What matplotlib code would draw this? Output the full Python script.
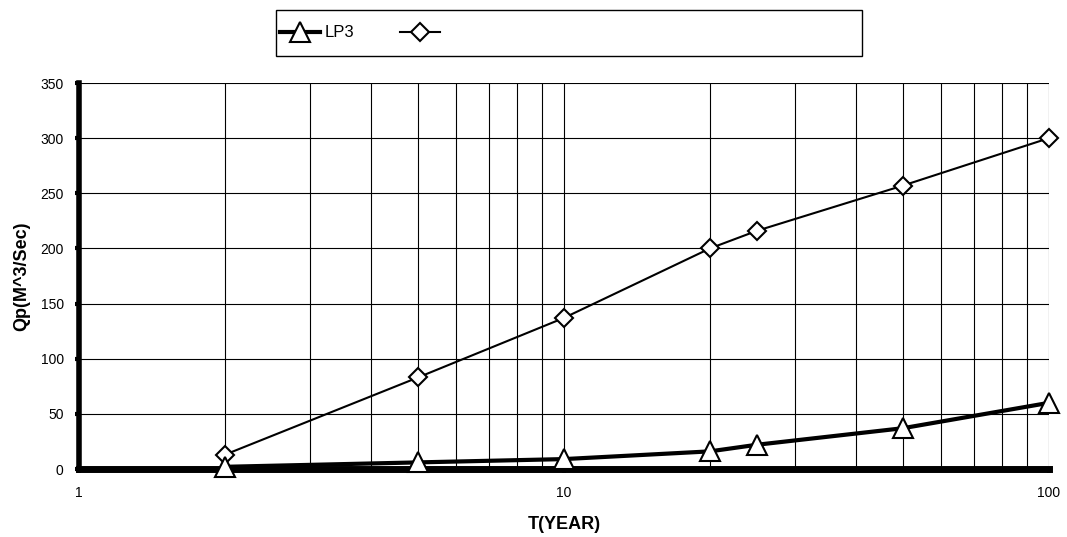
import matplotlib
matplotlib.use("Agg")
import matplotlib.pyplot as plt
from matplotlib.patches import Rectangle
from matplotlib.ticker import LogLocator, NullFormatter, FixedLocator

plt.rcParams['font.family'] = ['Liberation Sans', 'DejaVu Sans']

# return period (years) and peak discharge
T = [2, 5, 10, 20, 25, 50, 100]
qp_lp3 = [2, 6, 9, 16, 22, 37, 60]
qp_other = [13, 83, 137, 200, 216, 257, 300]

fig = plt.figure(figsize=(10.67, 5.37), dpi=100)
ax = fig.add_axes([0.074, 0.1266, 0.909, 0.7188])

ax.set_xscale('log')
ax.set_xlim(1, 100)
ax.set_ylim(0, 350)

# grid: every decade plus the minor years, y every 50
ax.xaxis.set_major_locator(FixedLocator([1, 10, 100]))
ax.xaxis.set_minor_locator(LogLocator(base=10, subs=range(2, 10)))
ax.xaxis.set_minor_formatter(NullFormatter())
ax.set_xticklabels(['1', '10', '100'])
ax.set_yticks(range(0, 351, 50))
ax.grid(True, which='both', axis='x', color='black', linewidth=0.8)
ax.grid(True, which='major', axis='y', color='black', linewidth=0.8)
ax.set_axisbelow(True)

l1, = ax.plot(T, qp_lp3, color='black', linewidth=3, marker='^', markersize=14,
              markerfacecolor='white', markeredgecolor='black', markeredgewidth=1.5,
              clip_on=False, zorder=4)
l2, = ax.plot(T, qp_other, color='black', linewidth=1.5, marker='D', markersize=9,
              markerfacecolor='white', markeredgecolor='black', markeredgewidth=1.5,
              clip_on=False, zorder=3)

for s in ['top', 'right']:
    ax.spines[s].set_visible(False)
ax.spines['left'].set_linewidth(4)
ax.spines['bottom'].set_linewidth(5)
ax.spines['bottom'].set_zorder(2)
ax.tick_params(axis='both', which='major', length=3, width=3, labelsize=10)
ax.tick_params(axis='y', pad=8)
ax.tick_params(axis='x', pad=9)
ax.tick_params(axis='x', which='minor', length=0)

ax.set_xlabel('T(YEAR)', fontsize=13, fontweight='bold', labelpad=12)
ax.set_ylabel('Qp(M^3/Sec)', fontsize=13, fontweight='bold', labelpad=7)

# legend box across the top
fig.patches.append(Rectangle((276 / 1067, 1 - 56 / 537), 586 / 1067, 46 / 537,
                             transform=fig.transFigure, fill=False,
                             edgecolor='black', linewidth=1))
fig.legend([l1, l2], ['LP3', ' '], loc='center left', ncol=2,
           bbox_to_anchor=(265 / 1067, 1 - 33 / 537), frameon=False,
           prop={'size': 12},
           handlelength=2.4, columnspacing=2.7, handletextpad=0.3)

fig.savefig('out.png', dpi=100)
